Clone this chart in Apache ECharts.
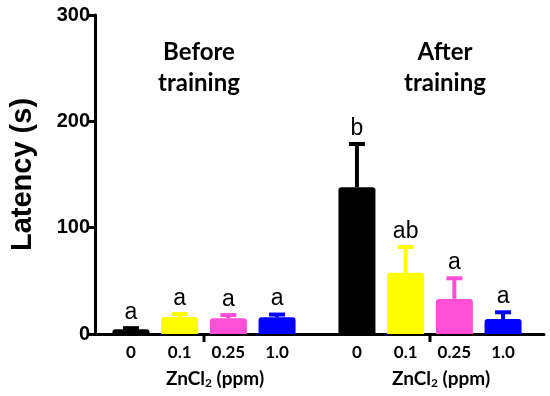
<!DOCTYPE html>
<html><head><meta charset="utf-8">
<script src="https://cdn.jsdelivr.net/npm/echarts@6/dist/echarts.min.js"></script>
<style>html,body{margin:0;padding:0;background:#fff}#c{width:550px;height:396px}</style>
</head><body><div id="c"></div>
<script>
// ---- data ----
const doses = ['0', '0.1', '0.25', '1.0'];
const groupTitles = ['Before\ntraining', 'After\ntraining'];
const beforeMean = [4.5, 16, 14.7, 15.7];
const beforeErr = [5.5, 18.8, 17.8, 18.3];
const beforeLetters = ['a', 'a', 'a', 'a'];
const afterMean = [138, 57.5, 33, 14];
const afterErr = [178.7, 81.8, 52.4, 20.4];
const afterLetters = ['b', 'ab', 'a', 'a'];
const yTicks = [0, 100, 200, 300];
const colors = ['#000000', '#ffff00', '#ff4fd6', '#0000ff'];

const numFont = '"Liberation Sans", Arial, sans-serif';
const lblFont = 'Lato, "Open Sans", sans-serif';

function barData(mean) {
  return mean.map((v, i) => ({ value: v, itemStyle: { color: colors[i] } }));
}
function errData(mean, err) {
  return mean.map((v, i) => [i, v, err[i]]);
}
function errRender(letters) {
  return function (params, api) {
    const i = api.value(0);
    const pMean = api.coord([i, api.value(1)]);
    const pErr = api.coord([i, api.value(2)]);
    const c = colors[params.dataIndex];
    const children = [
      { type: 'line', shape: { x1: pMean[0], y1: pMean[1], x2: pErr[0], y2: pErr[1] },
        style: { stroke: c, lineWidth: 4 } },
      { type: 'rect', shape: { x: pErr[0] - 8, y: pErr[1] - 2, width: 16, height: 4 },
        style: { fill: c } },
      { type: 'text', x: pErr[0], y: pErr[1] - 4,
        style: { text: letters[params.dataIndex], font: '23px ' + numFont, fill: '#000',
                 textAlign: 'center', textVerticalAlign: 'bottom' } }
    ];
    // single divider tick between the 2nd and 3rd dose of each group
    if (params.dataIndex === 1) {
      const a = api.coord([1, 0]);
      const b = api.coord([2, 0]);
      const x = (a[0] + b[0]) / 2;
      children.push({ type: 'line', shape: { x1: x, y1: a[1], x2: x, y2: a[1] + 8 },
        style: { stroke: '#000', lineWidth: 3 } });
    }
    return { type: 'group', children };
  };
}

const gridTop = 15, gridBottom = 62;
const band = 48.7;
const gA = 106.6, gB = 332.6;

const catAxis = (gi, nameShift) => ({
  type: 'category', gridIndex: gi, data: doses,
  axisLine: { show: false },
  axisTick: { show: false },
  axisLabel: { color: '#000', fontFamily: lblFont, fontWeight: 'bold', fontSize: 17, margin: 10 },
  name: 'ZnCl{sub|2} (ppm)', nameLocation: 'middle', nameGap: 34,
  nameTextStyle: { color: '#000', fontFamily: lblFont, fontWeight: 'bold', fontSize: 19,
    padding: [0, 0, 0, nameShift],
    rich: { sub: { fontFamily: lblFont, fontWeight: 'bold', fontSize: 12, padding: [9, 0, 0, 0] } } }
});
const hiddenY = (gi) => ({ type: 'value', gridIndex: gi, min: 0, max: 300, interval: 100, show: false });

const option = {
  animation: false,
  grid: [
    { left: 90, right: 6, top: gridTop, bottom: gridBottom },
    { left: gA, width: band * 4, top: gridTop, bottom: gridBottom },
    { left: gB, width: band * 4, top: gridTop, bottom: gridBottom }
  ],
  xAxis: [
    { type: 'value', gridIndex: 0, min: 0, max: 1, axisLine: { show: true, onZero: false, lineStyle: { color: '#000', width: 3 } },
      axisTick: { show: false }, axisLabel: { show: false }, splitLine: { show: false } },
    catAxis(1, 22),
    catAxis(2, 22)
  ],
  yAxis: [
    { type: 'value', gridIndex: 0, min: yTicks[0], max: yTicks[yTicks.length - 1], interval: 100,
      axisLine: { show: true, lineStyle: { color: '#000', width: 3 } },
      axisTick: { show: true, length: 8, lineStyle: { color: '#000', width: 3 } },
      axisLabel: { color: '#000', fontFamily: numFont, fontWeight: 'bold', fontSize: 20, margin: 5 },
      splitLine: { show: false },
      name: 'Latency (s)', nameLocation: 'middle', nameGap: 58,
      nameTextStyle: { color: '#000', fontFamily: numFont, fontWeight: 'bold', fontSize: 29 } },
    hiddenY(1), hiddenY(2)
  ],
  graphic: [
    { type: 'text', x: 199, y: 68, style: { text: groupTitles[0], font: 'bold 24px ' + lblFont,
      fill: '#000', textAlign: 'center', textVerticalAlign: 'middle', lineHeight: 31 } },
    { type: 'text', x: 445, y: 68, style: { text: groupTitles[1], font: 'bold 24px ' + lblFont,
      fill: '#000', textAlign: 'center', textVerticalAlign: 'middle', lineHeight: 31 } }
  ],
  series: [
    { type: 'bar', xAxisIndex: 1, yAxisIndex: 1, barWidth: 37, data: barData(beforeMean),
      itemStyle: { borderRadius: [3, 3, 0, 0] } },
    { type: 'bar', xAxisIndex: 2, yAxisIndex: 2, barWidth: 37, data: barData(afterMean),
      itemStyle: { borderRadius: [3, 3, 0, 0] } },
    { type: 'custom', xAxisIndex: 1, yAxisIndex: 1, data: errData(beforeMean, beforeErr),
      renderItem: errRender(beforeLetters), z: 3 },
    { type: 'custom', xAxisIndex: 2, yAxisIndex: 2, data: errData(afterMean, afterErr),
      renderItem: errRender(afterLetters), z: 3 }
  ]
};
const chart = echarts.init(document.getElementById('c'), null, { renderer: 'canvas' });
chart.setOption(option);
</script></body></html>
